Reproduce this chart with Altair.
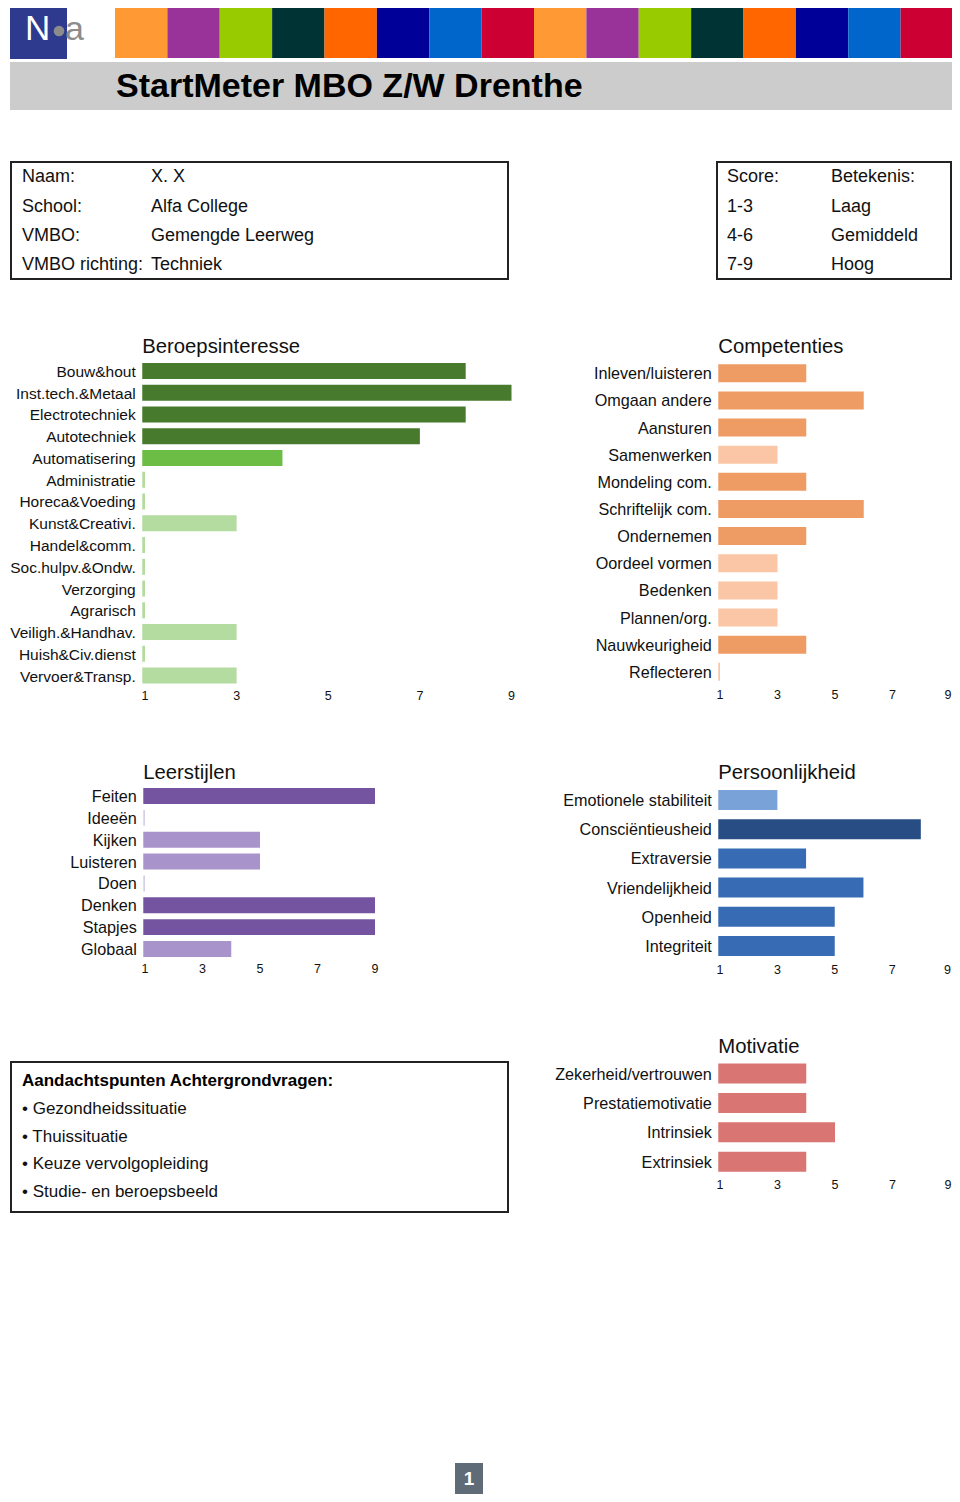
import altair as alt
import pandas as pd

FONT = "Liberation Sans"

# ---------------- data ----------------
header_colors = ["#FF9933", "#993399", "#99CC00", "#003333",
                 "#FF6600", "#000099", "#0066CC", "#CC0033"] * 2

report_title = "StartMeter MBO Z/W Drenthe"

info_labels = ["Naam:", "School:", "VMBO:", "VMBO richting:"]
info_values = ["X. X", "Alfa College", "Gemengde Leerweg", "Techniek"]
score_col = ["Score:", "1-3", "4-6", "7-9"]
meaning_col = ["Betekenis:", "Laag", "Gemiddeld", "Hoog"]

beroep_cats = ["Bouw&hout", "Inst.tech.&Metaal", "Electrotechniek", "Autotechniek",
               "Automatisering", "Administratie", "Horeca&Voeding", "Kunst&Creativi.",
               "Handel&comm.", "Soc.hulpv.&Ondw.", "Verzorging", "Agrarisch",
               "Veiligh.&Handhav.", "Huish&Civ.dienst", "Vervoer&Transp."]
beroep_vals = [8, 9, 8, 7, 4, 1, 1, 3, 1, 1, 1, 1, 3, 1, 3]

comp_cats = ["Inleven/luisteren", "Omgaan andere", "Aansturen", "Samenwerken",
             "Mondeling com.", "Schriftelijk com.", "Ondernemen", "Oordeel vormen",
             "Bedenken", "Plannen/org.", "Nauwkeurigheid", "Reflecteren"]
comp_vals = [4, 6, 4, 3, 4, 6, 4, 3, 3, 3, 4, 1]

leer_cats = ["Feiten", "Ideeën", "Kijken", "Luisteren", "Doen", "Denken", "Stapjes", "Globaal"]
leer_vals = [9, 1, 5, 5, 1, 9, 9, 4]

pers_cats = ["Emotionele stabiliteit", "Consciëntieusheid", "Extraversie",
             "Vriendelijkheid", "Openheid", "Integriteit"]
pers_vals = [3, 8, 4, 6, 5, 5]

mot_cats = ["Zekerheid/vertrouwen", "Prestatiemotivatie", "Intrinsiek", "Extrinsiek"]
mot_vals = [4, 4, 5, 4]

aandacht_title = "Aandachtspunten Achtergrondvragen:"
aandacht_items = ["Gezondheidssituatie", "Thuissituatie", "Keuze vervolgopleiding",
                  "Studie- en beroepsbeeld"]

tick_values = [1, 3, 5, 7, 9]
page_number = "1"

# ---------------- styles ----------------
LEVELS = ["low", "mid", "high"]
beroep_colors = ["#B4DBA0", "#6CBD45", "#477A2D"]
comp_colors = ["#FBC6A5", "#EE9B64", "#D9773E"]
leer_colors = ["#D6CFE6", "#A993CB", "#7454A0"]
pers_colors = ["#79A2D9", "#376CB5", "#284D85"]
mot_colors = ["#F0B0AE", "#D97572", "#B04845"]

BASE = 0.94  # bar baseline, just left of score 1
TXT = "#111111"


def level(v):
    return "low" if v <= 3 else ("mid" if v <= 6 else "high")


def panel(title, cats, vals, colors, xr, yr, pad, title_y, tick_y,
          label_size=16.2, edge_last=False):
    df = pd.DataFrame({"cat": cats, "v": vals, "lvl": [level(v) for v in vals],
                       "b": [BASE] * len(cats)})

    def xs():
        return alt.Scale(domain=[1, 9], range=xr, nice=False, zero=False)

    def ys():
        return alt.Scale(domain=cats, range=yr, paddingInner=pad, paddingOuter=pad / 2)

    bars = alt.Chart(df).mark_bar().encode(
        x=alt.X("v:Q", scale=xs(), axis=None),
        x2="b:Q",
        y=alt.Y("cat:N", scale=ys(), axis=None),
        color=alt.Color("lvl:N", scale=alt.Scale(domain=LEVELS, range=colors), legend=None),
    )
    labels = alt.Chart(df).mark_text(align="right", baseline="middle", dx=-6.5, dy=1,
                                     fontSize=label_size, font=FONT, color=TXT).encode(
        x=alt.X("b:Q", scale=xs(), axis=None),
        y=alt.Y("cat:N", scale=ys(), axis=None),
        text="cat:N",
    )
    layers = [bars, labels]
    inner = tick_values[:-1] if edge_last else tick_values
    layers.append(alt.Chart(pd.DataFrame({"t": inner})).mark_text(
        baseline="alphabetic", fontSize=12.5, font=FONT, color=TXT).encode(
        x=alt.X("t:Q", scale=xs(), axis=None),
        y=alt.value(tick_y),
        text="t:Q",
    ))
    if edge_last:
        # last tick label kept inside the page edge
        layers.append(alt.Chart(pd.DataFrame({"t": tick_values[-1:]})).mark_text(
            align="right", dx=1.5, baseline="alphabetic", fontSize=12.5, font=FONT,
            color=TXT).encode(
            x=alt.X("t:Q", scale=xs(), axis=None),
            y=alt.value(tick_y),
            text="t:Q",
        ))
    layers.append(alt.Chart(pd.DataFrame({"t": [title], "b": [BASE]})).mark_text(
        align="left", baseline="alphabetic", fontSize=20.3, font=FONT, color=TXT).encode(
        x=alt.X("b:Q", scale=xs(), axis=None),
        y=alt.value(title_y),
        text="t:N",
    ))
    return layers


def texts(rows, size=17, weight="normal", color=TXT, align="left"):
    df = pd.DataFrame(rows, columns=["text", "x", "y"])
    return alt.Chart(df).mark_text(align=align, baseline="alphabetic", fontSize=size,
                                   fontWeight=weight, font=FONT, color=color).encode(
        x=alt.X("x:Q", scale=None, axis=None),
        y=alt.Y("y:Q", scale=None, axis=None),
        text="text:N",
    )


def box(x0, x1, y0, y1, fill, stroke=None, sw=0):
    kw = dict(fill=fill)
    if stroke:
        kw.update(stroke=stroke, strokeWidth=sw)
    return alt.Chart(pd.DataFrame({"k": [0]})).mark_rect(**kw).encode(
        x=alt.value(x0), x2=alt.value(x1), y=alt.value(y0), y2=alt.value(y1))


# ---------------- header ----------------
strips = alt.Chart(pd.DataFrame({"i": list(range(len(header_colors))), "c": header_colors})).mark_rect().encode(
    x=alt.X("i:O", scale=alt.Scale(range=[107, 945], paddingInner=0, paddingOuter=0), axis=None),
    color=alt.Color("c:N", scale=None),
    y=alt.value(-4), y2=alt.value(50),
)
logo_box = box(2, 59, -4, 51, "#2E3A8E")
logo_n = texts([("N", 17, 32)], size=35, color="white")
logo_dot = alt.Chart(pd.DataFrame({"k": [0]})).mark_circle(size=113, color="#8C8C8C", opacity=1).encode(
    x=alt.value(51), y=alt.value(23))
logo_a = texts([("a", 57, 32)], size=34, color="#8C8C8C")
title_band = box(2, 945, 54, 102, "#CCCCCC")
title_txt = texts([(report_title, 108, 89)], size=34, weight="bold", color="black")

row_y = [174, 203.5, 232.5, 261.5]
info_box = box(3, 500, 154, 271, "white", "#222222", 2)
info_txt = texts([(t, 14, y) for t, y in zip(info_labels, row_y)] +
                 [(t, 143, y) for t, y in zip(info_values, row_y)], size=18)
score_box = box(709, 943, 154, 271, "white", "#222222", 2)
score_txt = texts([(t, 719, y) for t, y in zip(score_col, row_y)] +
                  [(t, 823, y) for t, y in zip(meaning_col, row_y)], size=18)

# ---------------- panels ----------------
p_beroep = panel("Beroepsinteresse", beroep_cats, beroep_vals, beroep_colors,
                 [137, 503.5], [352.1, 678.4], 0.264, 345.3, 692, label_size=15.5)
p_comp = panel("Competenties", comp_cats, comp_vals, comp_colors,
               [712, 942], [351.7, 677.4], 0.337, 344.7, 691, edge_last=True)
p_leer = panel("Leerstijlen", leer_cats, leer_vals, leer_colors,
               [137, 367], [777.1, 951.9], 0.268, 771, 964.7)
p_pers = panel("Persoonlijkheid", pers_cats, pers_vals, pers_colors,
               [712, 941.5], [777.4, 952.6], 0.315, 771.3, 966, edge_last=True)
p_mot = panel("Motivatie", mot_cats, mot_vals, mot_colors,
              [712, 942], [1050.8, 1168.4], 0.32, 1044.7, 1181.3, edge_last=True)

# ---------------- notes box & footer ----------------
aandacht_box = box(3, 500, 1054, 1204, "white", "#222222", 2)
aandacht_head = texts([(aandacht_title, 14, 1078)], weight="bold", color="black")
item_y = [1106, 1133.7, 1161, 1188.7]
aandacht_txt = texts([("\u2022 " + t, 14, y) for t, y in zip(aandacht_items, item_y)])

page_box = box(447, 475, 1455, 1486, "#5F6B77")
page_txt = texts([(page_number, 461, 1477)], size=19, weight="bold", color="white", align="center")

layers = [strips, logo_box, logo_n, logo_dot, logo_a, title_band, title_txt,
          info_box, info_txt, score_box, score_txt]
layers += p_beroep + p_comp + p_leer + p_pers + p_mot
layers += [aandacht_box, aandacht_head, aandacht_txt, page_box, page_txt]

chart = alt.layer(*layers).resolve_scale(
    x="independent", y="independent", color="independent"
).properties(
    width=944, height=1486, padding=0,
    autosize=alt.AutoSizeParams(type="none"),
    background="white",
).configure_view(stroke=None)

chart.save("out.html", embed_options={"renderer": "svg", "actions": False})
